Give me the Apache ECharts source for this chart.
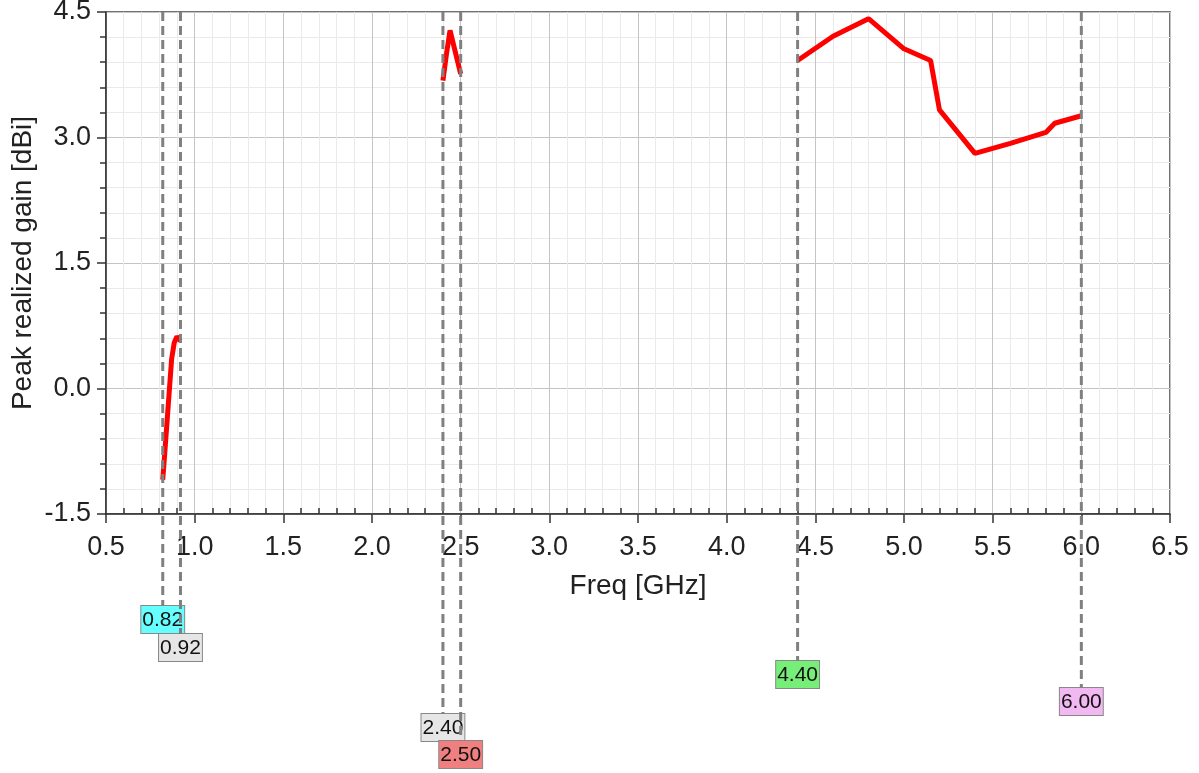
<!DOCTYPE html>
<html>
<head>
<meta charset="UTF-8">
<title>Peak realized gain</title>
<script src="https://cdn.jsdelivr.net/npm/echarts@6/dist/echarts.min.js"></script>
<style>
  html, body { margin: 0; padding: 0; background: #fff; }
  #main { width: 1199px; height: 773px; }
</style>
</head>
<body>
<div id="main"></div>
<script>
// band 1 (0.82 - 0.92 GHz)
const band1 = [[0.82, -1.09], [0.83, -0.81], [0.87, 0.35], [0.885, 0.55], [0.90, 0.62], [0.92, 0.57]]
// band 2 (2.40 - 2.50 GHz)
const band2 = [[2.40, 3.68], [2.42, 4.0], [2.44, 4.28], [2.45, 4.3], [2.47, 4.02], [2.50, 3.76]]
// band 3 (4.40 - 6.00 GHz)
const band3 = [[4.40, 3.92], [4.60, 4.21], [4.80, 4.42], [5.00, 4.06], [5.15, 3.92], [5.20, 3.33],
               [5.40, 2.81], [5.60, 2.93], [5.80, 3.06], [5.85, 3.17], [6.00, 3.26]]

// markers
const markerFreqs = [0.82, 0.92, 4.40, 6.00, 2.40, 2.50]
const markerColors = ['#66ffff', '#e6e6e6', '#77ee77', '#f2b8f2', '#e6e6e6', '#f08080']
const markerBoxTop = [606, 634, 661, 688, 714, 741]

const font = 'Liberation Sans, Arial, sans-serif'

let chart = echarts.init(document.getElementById('main'))

const lineStyle = { color: '#ff0000', width: 5 }
chart.setOption({
    animation: false,
    grid: {
        left: 106, right: 29, top: 12, bottom: 259, outerBoundsMode: 'none', containLabel: false,
        show: true, borderColor: '#444', borderWidth: 1.5
    },
    xAxis: [{
        type: 'value', min: 0.5, max: 6.5, interval: 0.5,
        name: 'Freq [GHz]', nameLocation: 'middle', nameGap: 58, nameMoveOverlap: false,
        nameTextStyle: { fontFamily: font, fontSize: 28, color: '#222' },
        axisLine: { onZero: false, lineStyle: { color: '#333', width: 1.5 } },
        axisTick: { show: true, length: 9, lineStyle: { color: '#333', width: 1.5 } },
        axisLabel: { fontFamily: font, fontSize: 27, color: '#222', margin: 20, formatter: v => v.toFixed(1) },
        splitLine: { show: true, lineStyle: { color: '#c4c4c4', width: 1 } },
        minorSplitLine: { show: true, lineStyle: { color: '#eaeaea', width: 1 } },
        minorTick: { show: false, splitNumber: 5 }
    }, {
        type: 'value', min: 0.5, max: 6.5, interval: 0.5, position: 'bottom',
        axisLine: { show: false, onZero: false }, axisLabel: { show: false }, splitLine: { show: false },
        axisTick: { show: false, inside: true },
        minorTick: { show: true, splitNumber: 5, length: 6, lineStyle: { color: '#333', width: 1.5 } }
    }],
    yAxis: {
        type: 'value', min: -1.5, max: 4.5, interval: 1.5,
        name: 'Peak realized gain [dBi]', nameLocation: 'middle', nameGap: 69, nameMoveOverlap: false,
        nameTextStyle: { fontFamily: font, fontSize: 28, color: '#222' },
        axisLine: { show: true, onZero: false, lineStyle: { color: '#333', width: 1.5 } },
        axisTick: { show: true, length: 9, lineStyle: { color: '#333', width: 1.5 } },
        axisLabel: { fontFamily: font, fontSize: 27, color: '#222', margin: 15, formatter: v => v.toFixed(1) },
        splitLine: { show: true, lineStyle: { color: '#c4c4c4', width: 1 } },
        minorSplitLine: { show: true, lineStyle: { color: '#eaeaea', width: 1 } },
        minorTick: { show: true, splitNumber: 5, length: 6, lineStyle: { color: '#333', width: 1.5 } }
    },
    series: [band1, band2, band3].map(d => ({
        type: 'line', data: d, showSymbol: false, lineStyle: lineStyle, z: 5
    }))
})

// marker lines and labels, placed with the axis scale
const topY = chart.convertToPixel({ gridIndex: 0 }, [0.5, 4.5])[1]
const boxes = []
const lines = []
markerFreqs.forEach((f, i) => {
    const x = chart.convertToPixel({ gridIndex: 0 }, [f, 0])[0]
    lines.push({
        type: 'line', z: 20,
        shape: { x1: x, y1: topY, x2: x, y2: markerBoxTop[i] },
        style: { stroke: '#808080', lineWidth: 3, lineDash: [9, 5] }
    })
    boxes.push({
        type: 'text', z: 10, x: x, y: markerBoxTop[i],
        style: {
            text: f.toFixed(2), fontFamily: font, fontSize: 21, fill: '#111',
            align: 'center', verticalAlign: 'top',
            backgroundColor: markerColors[i], borderColor: '#888', borderWidth: 1,
            padding: [4, 1, 2, 1]
        }
    })
})
chart.setOption({ graphic: boxes.concat(lines) })
</script>
</body>
</html>
